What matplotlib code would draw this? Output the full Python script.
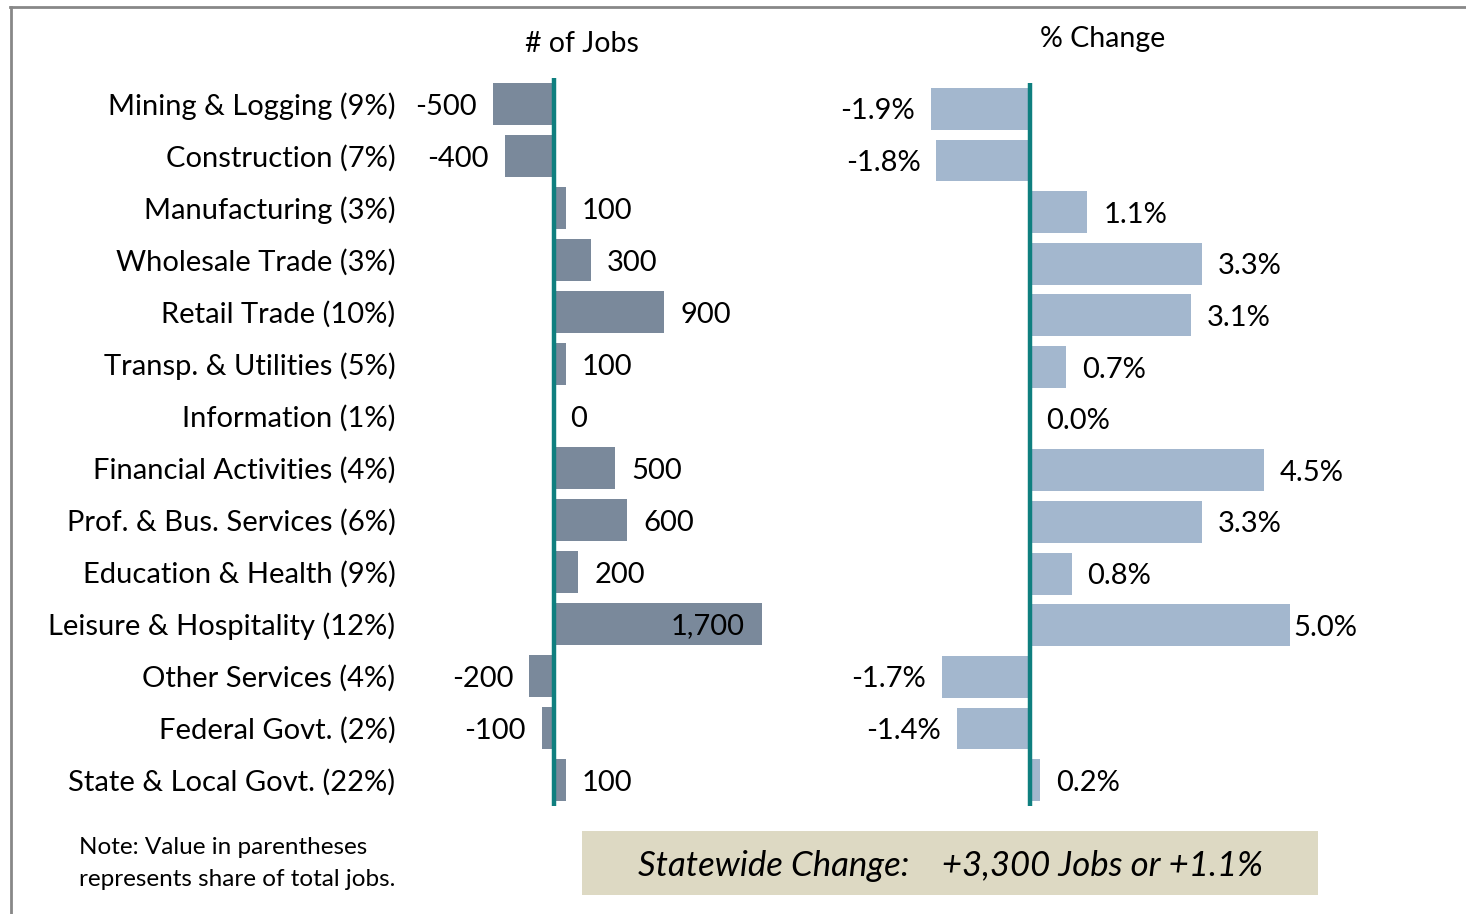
import matplotlib
matplotlib.use("Agg")
import matplotlib.pyplot as plt
from matplotlib.lines import Line2D
from matplotlib.patches import Rectangle

plt.rcParams['font.family'] = ['Lato', 'DejaVu Sans']

# data
categories = ['Mining & Logging (9%)', 'Construction (7%)', 'Manufacturing (3%)',
              'Wholesale Trade (3%)', 'Retail Trade (10%)', 'Transp. & Utilities (5%)',
              'Information (1%)', 'Financial Activities (4%)', 'Prof. & Bus. Services (6%)',
              'Education & Health (9%)', 'Leisure & Hospitality (12%)', 'Other Services (4%)',
              'Federal Govt. (2%)', 'State & Local Govt. (22%)']
jobs = [-500, -400, 100, 300, 900, 100, 0, 500, 600, 200, 1700, -200, -100, 100]
pct = [-1.9, -1.8, 1.1, 3.3, 3.1, 0.7, 0.0, 4.5, 3.3, 0.8, 5.0, -1.7, -1.4, 0.2]

W, H = 1466, 914
dark_bar = '#7A899B'
light_bar = '#A3B7CE'
teal = '#0F7F7F'
fs = 21

fig = plt.figure(figsize=(W / 100, H / 100), dpi=100)


def px_axes(left, top, right, bottom):
    return fig.add_axes([left / W, 1 - bottom / H, (right - left) / W, (bottom - top) / H])


ypos = list(range(len(categories)))

# left panel: number of jobs
ax1 = px_axes(419, 78, 799, 806)
ax1.barh(ypos, jobs, height=0.81, color=dark_bar)
ax1.axvline(0, color=teal, lw=3.2)
ax1.set_xlim(-1100, 2000)
ax1.set_ylim(len(categories) - 0.5, -0.5)
ax1.set_yticks(ypos)
ax1.set_yticklabels(categories, fontsize=fs, va='center_baseline')
ax1.tick_params(axis='y', length=0, pad=17)
ax1.set_xticks([])
for s in ax1.spines.values():
    s.set_visible(False)
ax1.patch.set_alpha(0)

for i, v in enumerate(jobs):
    txt = f'{v:,}'
    if v == max(jobs):
        ax1.annotate(txt, (v, i), xytext=(-13, 0), textcoords='offset points',
                     ha='right', va='center_baseline', fontsize=fs)
    elif v < 0:
        ax1.annotate(txt, (v, i), xytext=(-11.5, 0), textcoords='offset points',
                     ha='right', va='center_baseline', fontsize=fs)
    else:
        ax1.annotate(txt, (v, i), xytext=(11.5, 0), textcoords='offset points',
                     ha='left', va='center_baseline', fontsize=fs)

# right panel: percent change
ax2 = px_axes(874, 83, 1368, 806)
ax2.barh(ypos, pct, height=0.81, color=light_bar)
ax2.axvline(0, color=teal, lw=3.2)
ax2.set_xlim(-3, 6.5)
ax2.set_ylim(len(categories) - 0.5, -0.5)
ax2.set_xticks([])
ax2.set_yticks([])
for s in ax2.spines.values():
    s.set_visible(False)
ax2.patch.set_alpha(0)

for i, v in enumerate(pct):
    txt = f'{v:.1f}%'
    if v == max(pct):
        ax2.annotate(txt, (v, i), xytext=(2.5, 0), textcoords='offset points',
                     ha='left', va='center_baseline', fontsize=fs)
    elif v < 0:
        ax2.annotate(txt, (v, i), xytext=(-11.5, 0), textcoords='offset points',
                     ha='right', va='center_baseline', fontsize=fs)
    else:
        ax2.annotate(txt, (v, i), xytext=(11.5, 0), textcoords='offset points',
                     ha='left', va='center_baseline', fontsize=fs)

# headers
fig.text(582 / W, 1 - 42 / H, '# of Jobs', ha='center', va='center_baseline', fontsize=20.5)
fig.text(1103 / W, 1 - 37 / H, '% Change', ha='center', va='center_baseline', fontsize=20.5)

# note
fig.text(79 / W, 1 - 845 / H, 'Note: Value in parentheses', ha='left', va='center_baseline',
         fontsize=17.5)
fig.text(79 / W, 1 - 877 / H, 'represents share of total jobs.', ha='left', va='center_baseline',
         fontsize=17.5)

# statewide box
fig.add_artist(Rectangle((582 / W, 1 - 895 / H), (1318 - 582) / W, 64 / H,
                         transform=fig.transFigure, facecolor='#DDD9C3', edgecolor='none'))
fig.text(950 / W, 1 - 863 / H, 'Statewide Change:    +3,300 Jobs or +1.1%',
         ha='center', va='center_baseline', fontsize=25, style='italic')

# outer frame (top and left edges visible)
fig.add_artist(Line2D([10 / W, 1], [1 - 7 / H, 1 - 7 / H], transform=fig.transFigure,
                      color='#888888', lw=2))
fig.add_artist(Line2D([11 / W, 11 / W], [0, 1 - 7 / H], transform=fig.transFigure,
                      color='#888888', lw=2))

fig.savefig('out.png', dpi=100)
